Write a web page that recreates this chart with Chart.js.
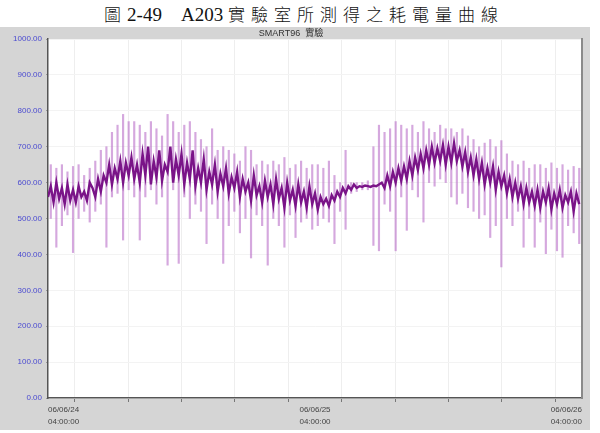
<!DOCTYPE html>
<html>
<head>
<meta charset="utf-8">
<script src="https://cdn.jsdelivr.net/npm/chart.js@4/dist/chart.umd.min.js"></script>
<style>
  body { margin: 0; background: #fff; width: 600px; height: 433px; overflow: hidden; }
  #cap { height: 27px; line-height: 28px; text-align: center; font-family: "Liberation Serif", serif; font-size: 19px; color: #111; white-space: nowrap; padding-left: 8px; }
  #cap .zh { font-family: "Noto Sans CJK TC", sans-serif; font-size: 17px; letter-spacing: 6px; font-weight: 300; }
  #panel { position: absolute; left: 0; top: 27px; width: 590px; height: 403px; background: #d5d5d5; }
</style>
</head>
<body>
<div id="cap"><span class="zh">圖</span>2-49&nbsp;&nbsp;&nbsp; A203 <span class="zh">實驗室所測得之耗電量曲線</span></div>
<div id="panel"><canvas id="c" width="590" height="403"></canvas></div>
<script>
// 06/06/24 04:00 -> 06/06/26 04:00, hours from start
var dayLabels = [["06/06/24", "04:00:00"], ["06/06/25", "04:00:00"], ["06/06/26", "04:00:00"]];
var yTicks = [0, 100, 200, 300, 400, 500, 600, 700, 800, 900, 1000];

// dense kW trace, one reading every 15 min
var core = [
  560, 590, 545, 600, 555, 585, 540, 595, 550, 580, 545, 590, 560, 575, 550, 600,
  585, 560, 610, 575, 620, 600, 650, 595, 640, 610, 660, 600, 655, 620, 670, 610,
  650, 600, 680, 620, 700, 595, 660, 615, 690, 605, 650, 630, 700, 600, 665, 620,
  680, 595, 655, 610, 690, 590, 640, 600, 665, 580, 630, 595, 650, 575, 625, 590,
  640, 570, 615, 585, 630, 560, 610, 575, 600, 550, 620, 565, 590, 545, 605, 560,
  595, 540, 610, 555, 585, 530, 600, 550, 580, 535, 595, 545, 575, 530, 590, 540,
  570, 525, 560, 540, 555, 535, 565, 550, 575, 560, 585, 570, 590, 580, 595, 585,
  590, 588, 592, 590, 588, 592, 590, 595, 600, 585, 620, 590, 630, 600, 640, 605,
  645, 610, 660, 620, 670, 635, 680, 640, 690, 650, 700, 655, 695, 660, 705, 650,
  700, 655, 710, 660, 690, 645, 685, 630, 670, 620, 665, 610, 655, 595, 640, 600,
  645, 580, 630, 590, 620, 570, 610, 560, 600, 555, 590, 540, 585, 545, 575, 535,
  580, 530, 575, 545, 585, 525, 570, 540, 580, 530, 565, 545, 575, 520, 570, 540
];

// spike envelope, every 30 min
var spikeHi = [
  650, 640, 650, 630, 645, 650, 620, 640,
  660, 690, 700, 740, 760, 790, 770, 770,
  760, 740, 770, 750, 730, 790, 770, 740,
  760, 770, 740, 720, 700, 750, 690, 700,
  690, 680, 660, 700, 690, 650, 660, 650,
  660, 650, 670, 640, 650, 660, 640, 650,
  650, 640, 660, 620, 600, 690, 600, 600,
  600, 605, 700, 760, 740, 750, 770, 760,
  750, 760, 740, 770, 750, 740, 760, 750,
  750, 740, 750, 730, 720, 700, 710, 720,
  700, 717, 680, 660, 650, 660, 640, 650,
  650, 640, 655, 640, 650, 635, 645, 640
];
var spikeLo = [
  500, 420, 480, 510, 405, 500, 520, 490,
  520, 540, 420, 560, 570, 440, 580, 560,
  440, 560, 580, 540, 560, 370, 580, 375,
  560, 500, 540, 520, 430, 540, 500, 375,
  480, 520, 460, 500, 390, 510, 480, 370,
  500, 480, 420, 510, 447, 490, 500, 470,
  480, 500, 490, 430, 520, 470, 570, 575,
  580, 580, 425, 410, 540, 520, 410, 560,
  467, 580, 560, 490, 600, 590, 610, 600,
  560, 540, 570, 530, 520, 500, 510, 447,
  480, 365, 500, 480, 520, 420, 500, 420,
  490, 402, 470, 410, 392, 480, 460, 430
];

var corePts = core.map(function (v, i) { return { x: i * 0.25, y: v }; });
var spikePts = spikeHi.map(function (v, i) { return { x: i * 0.5 + 0.25, y: [spikeLo[i], v] }; });

var whiteArea = {
  id: 'whiteArea',
  beforeDraw: function (chart) {
    var a = chart.chartArea, ctx = chart.ctx;
    ctx.save();
    ctx.fillStyle = '#ffffff';
    ctx.fillRect(a.left, a.top, a.right - a.left, a.bottom - a.top);
    ctx.restore();
  }
};

new Chart(document.getElementById('c'), {
  type: 'bar',
  data: {
    datasets: [
      {
        type: 'line',
        label: 'SMART96',
        data: corePts,
        borderColor: '#7a1488',
        borderWidth: 2.4,
        pointRadius: 0,
        tension: 0,
        order: 0
      },
      {
        label: 'spikes',
        data: spikePts,
        backgroundColor: 'rgba(185,110,200,0.6)',
        barThickness: 1.5,
        grouped: false,
        order: 1
      }
    ]
  },
  plugins: [whiteArea],
  options: {
    responsive: false,
    animation: false,
    layout: { padding: { right: 8, top: 0, left: 0, bottom: 0 } },
    plugins: {
      legend: { display: false },
      tooltip: { enabled: false },
      title: {
        display: true,
        text: 'SMART96  實驗',
        color: '#333',
        font: { size: 9, family: 'Liberation Sans, Noto Sans CJK TC', weight: 'normal', lineHeight: 1 },
        padding: { top: 2, bottom: 1 }
      }
    },
    scales: {
      x: {
        type: 'linear',
        min: 0,
        max: 48,
        offset: false,
        afterBuildTicks: function (s) {
          s.ticks = [0, 4.8, 9.6, 14.4, 19.2, 24, 28.8, 33.6, 38.4, 43.2, 48].map(function (v) { return { value: v }; });
        },
        ticks: {
          autoSkip: false,
          maxRotation: 0,
          align: 'inner',
          color: '#444',
          font: { size: 8, family: 'Liberation Sans', lineHeight: 1.5 },
          padding: 2,
          callback: function (v, i) {
            if (i === 0) return dayLabels[0];
            if (i === 5) return dayLabels[1];
            if (i === 10) return dayLabels[2];
            return '';
          }
        },
        grid: { color: '#eeeeee', tickColor: '#777', tickLength: 4 },
        border: { color: '#555', width: 1.5 },
        afterFit: function (s) { s.height = 32; }
      },
      y: {
        min: 0,
        max: 1000,
        afterBuildTicks: function (s) {
          s.ticks = yTicks.map(function (v) { return { value: v }; });
        },
        ticks: {
          color: '#4a4ad0',
          font: { size: 8, family: 'Liberation Sans' },
          padding: 4,
          callback: function (v) { return v.toFixed(2); }
        },
        grid: { color: '#f3f3f3', tickColor: '#999', tickLength: 2 },
        border: { color: '#555', width: 1.5 },
        afterFit: function (s) { s.width = 48; }
      },
      y2: {
        position: 'right',
        min: 0,
        max: 1000,
        ticks: { display: false },
        grid: { drawOnChartArea: false, drawTicks: false },
        border: { color: '#8a8a8a', width: 2 },
        afterFit: function (s) { s.width = 0; }
      }
    }
  }
});
</script>
</body>
</html>
